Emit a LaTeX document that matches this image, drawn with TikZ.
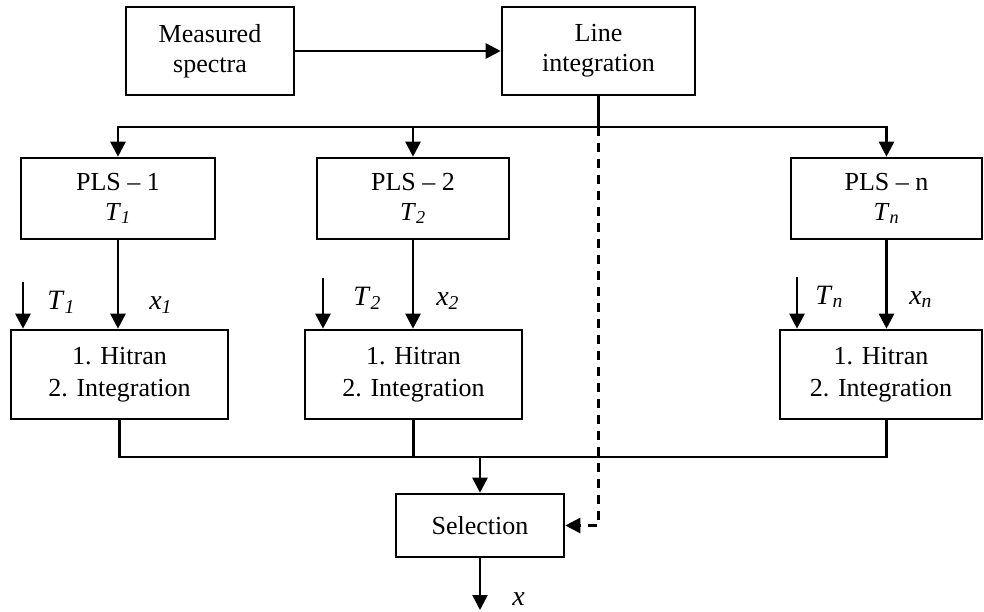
\documentclass[tikz,border=0pt]{standalone}
\usepackage{fontspec}
\setmainfont{Liberation Serif}
\usetikzlibrary{arrows.meta}
\newcommand{\lab}[2]{\textit{#1}\textsubscript{\textit{#2}}}

\begin{document}
\begin{tikzpicture}[x=1pt,y=-1pt,line width=2.6pt,
  >={Triangle[length=15pt,width=15pt]},
  box/.style={draw,inner sep=0pt,align=center,font=\fontsize{26}{30}\selectfont},
  pls/.style={box,minimum height=81pt},
  hit/.style={box,minimum height=89pt,font=\fontsize{26}{32}\selectfont},
  lbl/.style={anchor=base west,inner sep=0pt,font=\fontsize{28}{32}\selectfont}]
\useasboundingbox (0,0) rectangle (984,612);
\node[box,minimum width=168pt,minimum height=88pt] (ms) at (210,51) {Measured\\spectra};
\node[box,minimum width=193pt,minimum height=88pt] (li) at (598.5,51) {Line\\integration};
\node[pls,minimum width=194pt] (p1) at (118,198.5) {PLS -- 1\\\lab{T}{1}};
\node[pls,minimum width=192pt] (p2) at (413,198.5) {PLS -- 2\\\lab{T}{2}};
\node[pls,minimum width=191pt] (pn) at (886.5,198.5) {PLS -- n\\\lab{T}{n}};
\node[hit,minimum width=217pt] (h1) at (119.5,374.5) {1. Hitran\\2. Integration};
\node[hit,minimum width=217pt] (h2) at (413.5,374.5) {1. Hitran\\2. Integration};
\node[hit,minimum width=202pt] (hn) at (881,374.5) {1. Hitran\\2. Integration};
\node[box,minimum width=168pt,minimum height=63pt] (sel) at (480,525.5) {Selection};
\coordinate (j) at (598.5,127);
\coordinate (b) at (480,457);
\coordinate (t1) at (23,282);
\coordinate (t2) at (323,278);
\coordinate (tn) at (797,277);
\coordinate (out) at (480,610);

\draw[->] (ms) -- (li);
\draw (li) -- (j);
\draw[->] (j) -| (p1);
\draw[->] (j) -| (p2);
\draw[->] (j) -| (pn);
\draw[->,dash pattern=on 9pt off 7pt] (j) |- (sel);
\foreach \i in {1,2,n}{
  \draw[->] (p\i) -- (p\i |- h\i.north);
  \draw[->] (t\i) -- (t\i |- h\i.north);
}
\draw (h1) |- (b) -| (pn |- hn.south);
\draw (h2) -- (h2 |- b);
\draw[->] (b) -- (sel);
\draw[->] (sel) -- (out);

\node[lbl] (lt1) at (46,309) {\lab{T}{1}};
\node[lbl] (lx1) at (148,309) {\lab{x}{1}};
\node[lbl] (lt2) at (352,305) {\lab{T}{2}};
\node[lbl] (lx2) at (435,305) {\lab{x}{2}};
\node[lbl] (ltn) at (814,304) {\lab{T}{n}};
\node[lbl] (lxn) at (908,304) {\lab{x}{n}};
\node[lbl] (lx) at (511,605) {\textit{x}};
\end{tikzpicture}
\end{document}
